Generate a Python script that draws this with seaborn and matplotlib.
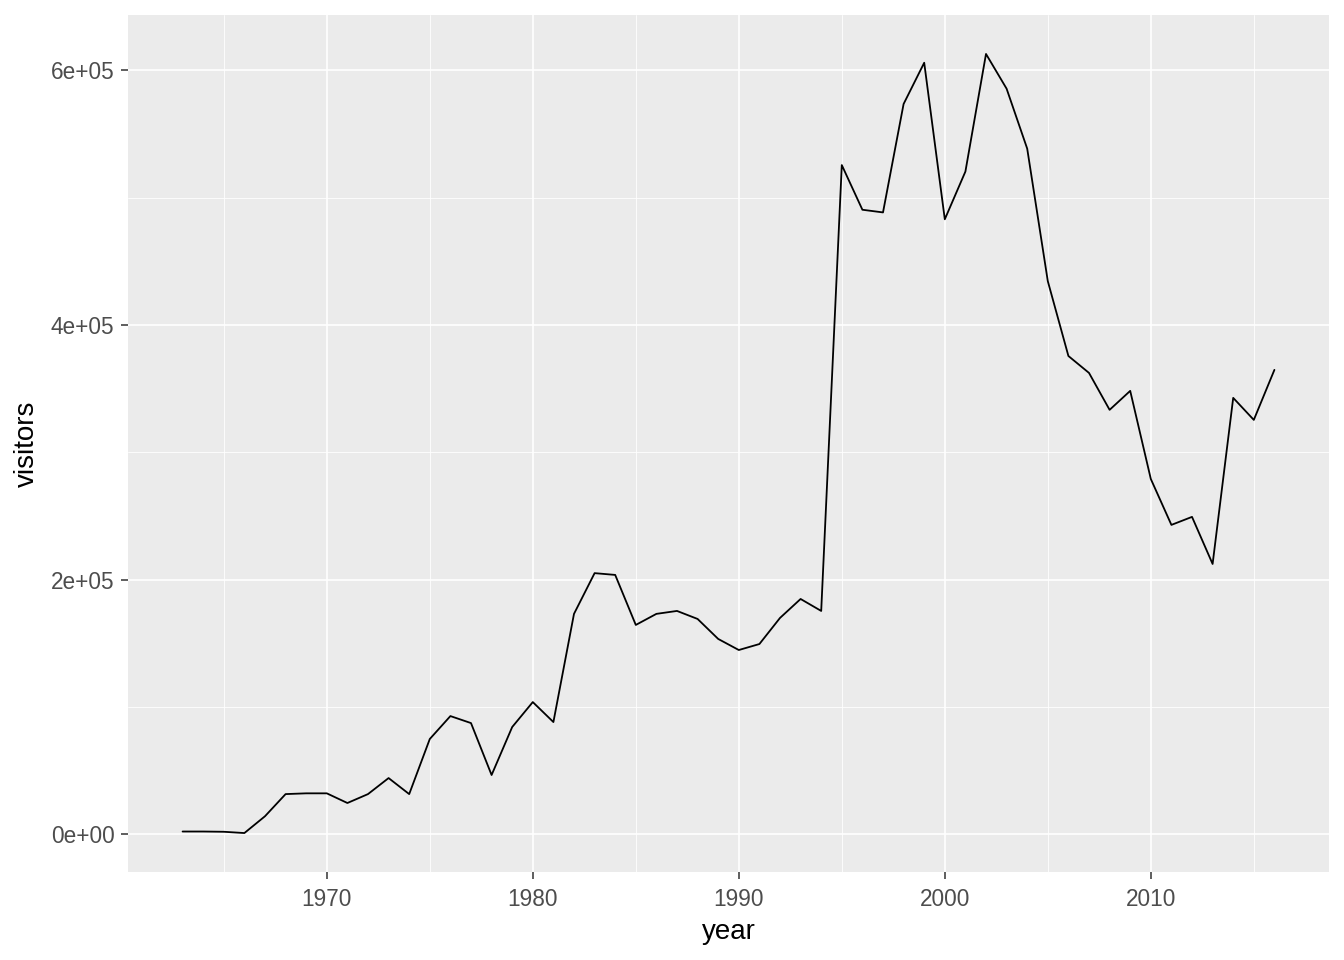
import numpy as np
import pandas as pd
import matplotlib
matplotlib.use("Agg")
import matplotlib.pyplot as plt
from matplotlib.ticker import MultipleLocator, FuncFormatter
import seaborn as sns

# ─── Data ────────────────────────────────────────────────────────
years = list(range(1963, 2017))
visitors = [
    2000, 2000, 1800, 800, 14000, 31400, 32000, 32000, 24400, 31400,   # 1963-1972
    44000, 31400, 74700, 92700, 87200, 46400, 84100, 103700, 88000,    # 1973-1981
    173000, 205000, 203600, 164300, 173000, 175300, 169000, 153300,    # 1982-1989
    144600, 149300, 169800, 184700, 175300,                            # 1990-1994
    525600, 490500, 488400, 573600, 606000, 483000, 520500, 612900,    # 1995-2002
    585600, 538500, 434400, 375600, 362300, 333300, 348200, 279000,    # 2003-2010
    242900, 249200, 212200, 342700, 325400, 364700,                    # 2011-2016
]
df = pd.DataFrame({"year": years, "visitors": visitors})

# ─── ggplot-like theme ───────────────────────────────────────────
sns.set_theme(style="darkgrid")
plt.rcParams.update({
    "font.family": ["Liberation Sans", "DejaVu Sans"],
    "axes.facecolor": "#EBEBEB",
    "figure.facecolor": "white",
})

fig = plt.figure(figsize=(13.44, 9.6), dpi=100)
ax = fig.add_axes([128 / 1344, 88 / 960, 1201 / 1344, 857 / 960])

sns.lineplot(data=df, x="year", y="visitors", ax=ax, color="black",
             linewidth=1.3)

# limits with 5% expansion like ggplot
xr = max(years) - min(years)
yr = max(visitors) - min(visitors)
ax.set_xlim(min(years) - 0.05 * xr, max(years) + 0.05 * xr)
ax.set_ylim(min(visitors) - 0.05 * yr, max(visitors) + 0.05 * yr)

ax.xaxis.set_major_locator(MultipleLocator(10))
ax.xaxis.set_minor_locator(MultipleLocator(5))
ax.yaxis.set_major_locator(MultipleLocator(2e5))
ax.yaxis.set_minor_locator(MultipleLocator(1e5))
ax.yaxis.set_major_formatter(FuncFormatter(lambda v, p: f"{v:.0e}"))

ax.grid(which="major", color="white", linewidth=1.2)
ax.grid(which="minor", color="white", linewidth=0.6)
ax.set_axisbelow(True)
for s in ax.spines.values():
    s.set_visible(False)

ax.tick_params(axis="both", which="major", length=5.3, width=1.1,
               color="#333333", labelcolor="#4D4D4D", labelsize=16.3,
               bottom=True, left=True)
ax.tick_params(axis="x", which="major", pad=6.5)
ax.tick_params(axis="y", which="major", pad=4.5)
ax.tick_params(axis="both", which="minor", length=0)

ax.set_xlabel("year", fontsize=20, color="black", labelpad=5.5)
ax.set_ylabel("visitors", fontsize=20, color="black", labelpad=8)

fig.savefig("out.png", dpi=100)
